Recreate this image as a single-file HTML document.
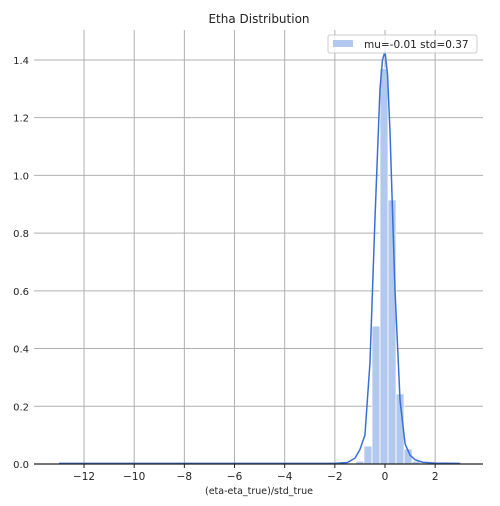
<!DOCTYPE html>
<html><head><meta charset="utf-8"><style>
body{margin:0;background:#fff}
svg text{font-family:"DejaVu Sans","Liberation Sans",sans-serif;fill:#222}
</style></head><body>
<svg id="chart" width="500" height="501" xmlns="http://www.w3.org/2000/svg">
<text x="259" y="23" font-size="12" text-anchor="middle">Etha Distribution</text>
<g id="grid"></g><g id="bars"></g><g id="kde"></g><g id="axes"></g>
<g>
<rect x="328" y="35" width="149" height="18" fill="#fff" fill-opacity="0.8" stroke="#ccc" rx="2"/>
<rect x="333" y="40" width="20" height="7" fill="#b3c8ee"/>
<text x="364" y="48" font-size="10.5">mu=-0.01 std=0.37</text>
</g>
<text x="259" y="494" font-size="9.5" text-anchor="middle">(eta-eta_true)/std_true</text>
</svg>
<script>
const binEdgesStart=-13, binWidth=0.32;
const binCounts=[0.003,0,0,0,0,0,0,0,0,0,0,0,0,0,0,0,0,0,0,0,0,0,0,0,0,0,0,0,0.003,0,0,0,0,0,0,0.003,0.003,0.01,0.062,0.478,1.37,0.915,0.243,0.052,0.01,0.003,0,0,0,0.003];
const kdeX=[-13,-2,-1.5,-1.2,-1,-0.8,-0.6,-0.4,-0.2,-0.1,0,0.1,0.2,0.4,0.6,0.8,1,1.2,1.5,2,3];
const kdeY=[0.002,0.002,0.005,0.02,0.05,0.1,0.35,0.85,1.3,1.4,1.43,1.35,1.15,0.6,0.22,0.07,0.03,0.015,0.006,0.003,0.002];
const xTicks=[-12,-10,-8,-6,-4,-2,0,2];
const yTicks=[0,0.2,0.4,0.6,0.8,1.0,1.2,1.4];
const L=34,R=483,T=30,B=464;
const sx=v=>385+v*25.08, sy=v=>464-v*288.6;
const NS="http://www.w3.org/2000/svg";
function mk(tag,attrs,parent){const e=document.createElementNS(NS,tag);for(const k in attrs)e.setAttribute(k,attrs[k]);parent.appendChild(e);return e;}
const grid=document.getElementById('grid'),axes=document.getElementById('axes'),bars=document.getElementById('bars'),kde=document.getElementById('kde');
xTicks.forEach(t=>{
 const g=mk('line',{x1:sx(t),x2:sx(t),y1:T,y2:B,stroke:'#b0b0b0','stroke-width':1},grid);
 
 
 mk('line',{x1:sx(t),x2:sx(t),y1:B,y2:B+4,stroke:'#222'},axes);
 const tx=mk('text',{x:sx(t),y:B+16,'font-size':10.5,'text-anchor':'middle'},axes);
 tx.textContent=(t<0?'\u2212'+(-t):t);
 
 
});
yTicks.forEach(t=>{
 if(t>0){const g=mk('line',{x1:L,x2:R,y1:sy(t),y2:sy(t),stroke:'#b0b0b0','stroke-width':1},grid);
 
 }
 const tx=mk('text',{x:29,y:sy(t)+4,'font-size':10,'text-anchor':'end'},axes);
 tx.textContent=t.toFixed(1);
 
 
});
const ax=mk('line',{x1:L,x2:R,y1:B,y2:B,stroke:'#222','stroke-width':1.2},axes);


binCounts.forEach((c,i)=>{
 if(c<=0)return;
 const x0=sx(binEdgesStart+i*binWidth),x1=sx(binEdgesStart+(i+1)*binWidth);
 const r=mk('rect',{x:x0,y:sy(c),width:x1-x0,height:sy(0)-sy(c),fill:'#b3c8ee',stroke:'#fff','stroke-width':0.8},bars);
 
 
});
const p=mk('polyline',{points:kdeX.map((x,i)=>sx(x)+','+sy(kdeY[i])).join(' '),fill:'none',stroke:'#3a6fd8','stroke-width':1.5},kde);


</script>
</body></html>
